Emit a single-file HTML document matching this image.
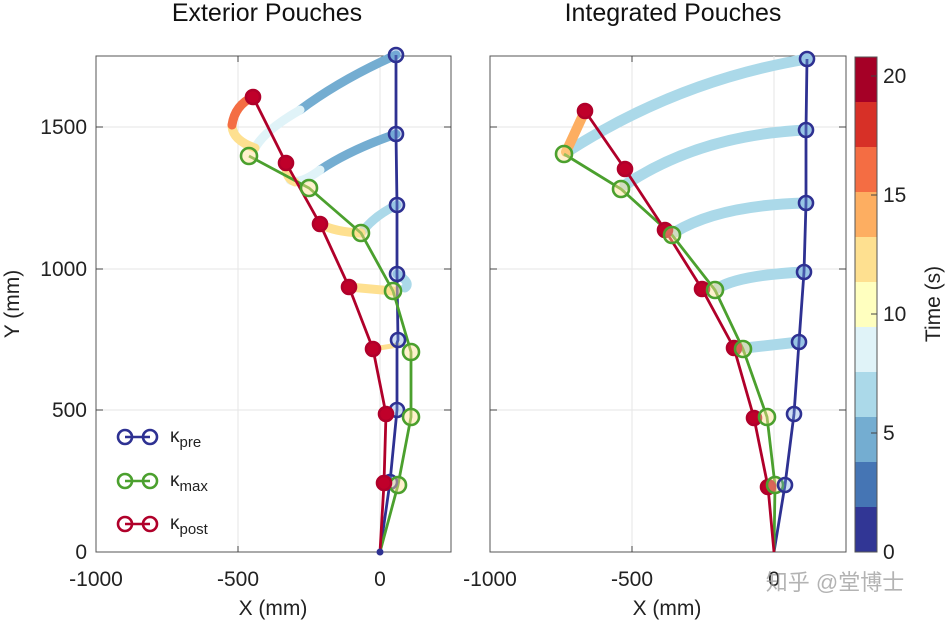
<!DOCTYPE html>
<html><head><meta charset="utf-8"><style>body{margin:0;background:#fff}svg{display:block;font-family:"Liberation Sans","Noto Sans CJK SC",sans-serif}</style></head><body>
<svg width="946" height="624" viewBox="0 0 946 624" xmlns="http://www.w3.org/2000/svg">
<!-- Left axes -->
<rect x="96" y="56" width="355" height="496" fill="#fff" stroke="#555" stroke-width="1"/>
<g stroke="#e6e6e6" stroke-width="1">
<line x1="238" y1="56" x2="238" y2="552"/><line x1="380" y1="56" x2="380" y2="552"/>
<line x1="96" y1="127" x2="451" y2="127"/><line x1="96" y1="269" x2="451" y2="269"/><line x1="96" y1="410" x2="451" y2="410"/>
</g>
<g stroke="#444" stroke-width="1">
<line x1="238" y1="552" x2="238" y2="546"/><line x1="238" y1="56" x2="238" y2="62"/>
<line x1="96" y1="127" x2="103" y2="127"/><line x1="451" y1="127" x2="444" y2="127"/>
<line x1="96" y1="269" x2="103" y2="269"/><line x1="451" y1="269" x2="444" y2="269"/>
<line x1="96" y1="410" x2="103" y2="410"/><line x1="451" y1="410" x2="444" y2="410"/>
</g>
<g fill="none" stroke-width="9" stroke-linecap="round">
<path d="M396,55 Q340,80 300,110" stroke="#74add1"/>
<path d="M300,110 Q265,130 255,148" stroke="#e0f3f8"/>
<path d="M255,148 Q232,140 232,125" stroke="#fee090"/>
<path d="M232,125 Q235,105 253,97" stroke="#f46d43"/>
<path d="M396,134 Q350,150 320,170" stroke="#74add1"/>
<path d="M320,170 Q300,185 290,180" stroke="#e0f3f8"/>
<path d="M295,182 Q285,178 286,163" stroke="#fee090"/>
<path d="M397,205 Q375,215 361,233" stroke="#abd9e9"/>
<path d="M361,233 Q335,232 320,224" stroke="#fee090"/>
<path d="M397,274 Q412,283 405,288" stroke="#abd9e9"/>
<path d="M393,291 L349,287" stroke="#fee090"/>
<path d="M398,345 L373,349" stroke="#fee090" stroke-width="5"/>
</g>
<g fill="none" stroke-width="2.8">
<polyline points="380,552 390,482 397,410 397,343 398,340 397,274 397,205 396,134 396,55" stroke="#2e3192"/>
<polyline points="380,552 398,485 411,417 411,352 393,291 361,233 309,188 249,156" stroke="#4ba02e"/>
<polyline points="380,552 384,483 386,414 373,349 349,287 320,224 286,163 253,97" stroke="#b0002a"/>
</g>
<g stroke-width="2.6">
<g fill="rgba(116,160,220,0.35)" stroke="#2e3192">
<circle cx="396" cy="55" r="7"/><circle cx="396" cy="134" r="7"/><circle cx="397" cy="205" r="7"/><circle cx="397" cy="274" r="7"/><circle cx="398" cy="340" r="7"/><circle cx="397" cy="410" r="7"/><circle cx="390" cy="482" r="7"/>
</g>
<g fill="rgba(254,224,144,0.45)" stroke="#4ba02e">
<circle cx="249" cy="156" r="8"/><circle cx="309" cy="188" r="8"/><circle cx="361" cy="233" r="8"/><circle cx="393" cy="291" r="8"/><circle cx="411" cy="352" r="8"/><circle cx="411" cy="417" r="8"/><circle cx="398" cy="485" r="8"/>
</g>
<g fill="#c0002a" stroke="#b0002a">
<circle cx="253" cy="97" r="7"/><circle cx="286" cy="163" r="7"/><circle cx="320" cy="224" r="7"/><circle cx="349" cy="287" r="7"/><circle cx="373" cy="349" r="7"/><circle cx="386" cy="414" r="7"/><circle cx="384" cy="483" r="7"/>
</g>
<circle cx="380" cy="552" r="3.5" fill="#2e3192" stroke="none"/>
</g>
<g stroke-width="2.6" fill="none">
<line x1="125" y1="437" x2="150" y2="437" stroke="#2e3192"/><circle cx="125" cy="437" r="7" stroke="#2e3192"/><circle cx="150" cy="437" r="7" stroke="#2e3192"/>
<line x1="125" y1="481" x2="150" y2="481" stroke="#4ba02e"/><circle cx="125" cy="481" r="7" stroke="#4ba02e"/><circle cx="150" cy="481" r="7" stroke="#4ba02e"/>
<line x1="125" y1="524" x2="150" y2="524" stroke="#b0002a"/><circle cx="125" cy="524" r="7" stroke="#b0002a"/><circle cx="150" cy="524" r="7" stroke="#b0002a"/>
</g>
<g font-size="19" fill="#222">
<text x="170" y="442">κ<tspan font-size="15" dy="5">pre</tspan></text>
<text x="170" y="486">κ<tspan font-size="15" dy="5">max</tspan></text>
<text x="170" y="529">κ<tspan font-size="15" dy="5">post</tspan></text>
</g>

<!-- Right axes -->
<rect x="490" y="56" width="356" height="496" fill="none" stroke="#555" stroke-width="1"/>
<g stroke="#e6e6e6" stroke-width="1">
<line x1="632" y1="56" x2="632" y2="552"/><line x1="774" y1="56" x2="774" y2="552"/>
<line x1="490" y1="127" x2="846" y2="127"/><line x1="490" y1="269" x2="846" y2="269"/><line x1="490" y1="410" x2="846" y2="410"/>
</g>
<g stroke="#444" stroke-width="1">
<line x1="632" y1="56" x2="632" y2="62"/><line x1="632" y1="552" x2="632" y2="546"/>
<line x1="490" y1="127" x2="497" y2="127"/><line x1="846" y1="127" x2="839" y2="127"/>
<line x1="490" y1="269" x2="497" y2="269"/><line x1="846" y1="269" x2="839" y2="269"/>
<line x1="490" y1="410" x2="497" y2="410"/><line x1="846" y1="410" x2="839" y2="410"/>
</g>
<g fill="none" stroke="#abd9e9" stroke-width="11" stroke-linecap="round">
<path d="M807,59 Q680,80 570,150"/>
<path d="M806,130 Q700,135 625,185"/>
<path d="M806,203 Q720,205 675,232"/>
<path d="M804,272 Q740,275 718,288"/>
<path d="M799,342 L745,348"/>
</g>
<path d="M566,152 L584,113" stroke="#fdae61" stroke-width="10" stroke-linecap="round" fill="none"/>
<g fill="none" stroke-width="2.8">
<polyline points="774,552 785,485 794,414 799,342 804,272 806,203 806,130 807,59" stroke="#2e3192"/>
<polyline points="774,552 775,485 767,417 743,349 715,290 672,235 621,189 564,154" stroke="#4ba02e"/>
<polyline points="774,552 768,487 754,418 734,348 702,289 665,230 625,169 585,111" stroke="#b0002a"/>
</g>
<g stroke-width="2.6">
<g fill="#c0002a" stroke="#b0002a">
<circle cx="585" cy="111" r="7"/><circle cx="625" cy="169" r="7"/><circle cx="665" cy="230" r="7"/><circle cx="702" cy="289" r="7"/><circle cx="734" cy="348" r="7"/><circle cx="754" cy="418" r="7"/><circle cx="768" cy="487" r="7"/>
</g>
<g fill="rgba(254,224,144,0.45)" stroke="#4ba02e">
<circle cx="564" cy="154" r="8"/><circle cx="621" cy="189" r="8"/><circle cx="672" cy="235" r="8"/><circle cx="715" cy="290" r="8"/><circle cx="743" cy="349" r="8"/><circle cx="767" cy="417" r="8"/><circle cx="775" cy="485" r="8"/>
</g>
<g fill="rgba(116,160,220,0.35)" stroke="#2e3192">
<circle cx="807" cy="59" r="7"/><circle cx="806" cy="130" r="7"/><circle cx="806" cy="203" r="7"/><circle cx="804" cy="272" r="7"/><circle cx="799" cy="342" r="7"/><circle cx="794" cy="414" r="7"/><circle cx="785" cy="485" r="7"/>
</g>
</g>

<!-- colorbar -->
<g>
<rect x="855" y="57" width="22" height="45" fill="#a50026"/>
<rect x="855" y="102" width="22" height="45" fill="#d73027"/>
<rect x="855" y="147" width="22" height="45" fill="#f46d43"/>
<rect x="855" y="192" width="22" height="45" fill="#fdae61"/>
<rect x="855" y="237" width="22" height="45" fill="#fee090"/>
<rect x="855" y="282" width="22" height="45" fill="#ffffbf"/>
<rect x="855" y="327" width="22" height="45" fill="#e0f3f8"/>
<rect x="855" y="372" width="22" height="45" fill="#abd9e9"/>
<rect x="855" y="417" width="22" height="45" fill="#74add1"/>
<rect x="855" y="462" width="22" height="45" fill="#4575b4"/>
<rect x="855" y="507" width="22" height="45" fill="#313695"/>
<rect x="855" y="57" width="22" height="495" fill="none" stroke="#555" stroke-width="1"/>
<g stroke="#444"><line x1="871" y1="76" x2="877" y2="76"/><line x1="871" y1="195" x2="877" y2="195"/><line x1="871" y1="314" x2="877" y2="314"/><line x1="871" y1="433" x2="877" y2="433"/></g>
</g>
<g font-size="21" fill="#222">
<text x="883" y="83">20</text><text x="883" y="202">15</text><text x="883" y="321">10</text><text x="883" y="440">5</text><text x="883" y="559">0</text>
<text transform="translate(940,304) rotate(-90)" text-anchor="middle">Time (s)</text>
</g>

<g font-size="21" fill="#222" text-anchor="end">
<text x="87" y="134">1500</text><text x="87" y="276">1000</text><text x="87" y="417">500</text><text x="87" y="559">0</text>
</g>
<g font-size="21" fill="#222" text-anchor="middle">
<text x="96" y="586">-1000</text><text x="238" y="586">-500</text><text x="380" y="586">0</text>
<text x="490" y="586">-1000</text><text x="632" y="586">-500</text><text x="774" y="586">0</text>
<text x="273" y="615">X (mm)</text><text x="667" y="615">X (mm)</text>
<text transform="translate(19,304) rotate(-90)">Y (mm)</text>
</g>
<g font-size="25" fill="#111" text-anchor="middle">
<text x="267" y="21">Exterior Pouches</text>
<text x="673" y="21">Integrated Pouches</text>
</g>
<text x="835" y="590" font-size="22" fill="#999" fill-opacity="0.75" text-anchor="middle">知乎 @堂博士</text>
</svg>
</body></html>
